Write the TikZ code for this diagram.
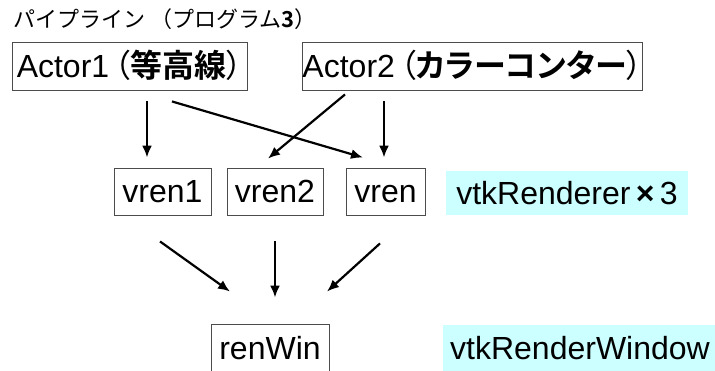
\documentclass[tikz,border=0pt]{standalone}
\usepackage{fontspec}
\setmainfont{Liberation Sans}
\newfontfamily\jp[RawFeature=+palt,BoldFont={Noto Sans CJK JP Bold}]{Noto Sans CJK JP}
\newfontfamily\jpt[BoldFont={Noto Sans CJK JP Bold}]{Noto Sans CJK JP}
\usetikzlibrary{arrows.meta,calc}
\definecolor{lightcyan}{HTML}{CCFFFF}
\tikzset{
  box/.style={draw=black!70,line width=0.9pt,inner sep=0pt,minimum height=47pt,
    font=\fontsize{32}{36}\selectfont,text=black,text height=23pt,text depth=0pt},
  tag/.style={fill=lightcyan,inner sep=0pt,font=\fontsize{32}{36}\selectfont,
    text height=23pt,text depth=0pt},
  arr/.style={line width=2.2pt,-{Latex[length=12pt,width=10pt]}},
}
\begin{document}
\begin{tikzpicture}[x=1pt,y=-1pt]
\useasboundingbox (0,0) rectangle (715,371);
\node[anchor=west,inner sep=0pt,font=\fontsize{22}{24}\selectfont] (title) at (13,19)
  {\jpt パイプライン\hspace{5pt}（プログラム\textbf{3}）};
\node[box,minimum width=235pt,minimum height=48pt] (A1) at (129.5,66)
  {Actor1\kern5pt{\jp （\textbf{等高線}）}};
\node[box,minimum width=331pt,minimum height=48pt] (A2) at (472.5,66)
  {Actor2\kern5pt{\jp （\textbf{カラーコンター}）}};
\node[box,minimum width=97pt] (v1) at (162.5,191.5) {vren1};
\node[box,minimum width=96pt] (v2) at (275,191.5) {vren2};
\node[box,minimum width=79pt] (v3) at (385.5,191.5) {vren};
\node[tag,minimum width=242pt,minimum height=44pt] (R3) at (567,193) {vtkRenderer\,\textbf{×}\,3};
\node[box,minimum width=118pt,minimum height=48pt] (rw) at (270,348) {renWin};
\node[tag,minimum width=274pt,minimum height=46pt] (RW) at (580,348) {vtkRenderWindow};
\draw[arr] ($(A1.south)+(17.5,11)$) -- ($(v1.north)+(-15.5,-10)$);
\draw[arr] ($(A1.south)+(42.5,11)$) -- ($(v3.north)+(-22.5,-10)$);
\draw[arr] ($(A2.south)+(-127.5,4)$) -- ($(v2.north)+(-7,-9)$);
\draw[arr] ($(A2.south)+(-88.5,11)$) -- ($(v3.north)+(-1.5,-10)$);
\draw[arr] ($(v1.south)+(-2.5,26)$) -- ($(rw.north)+(-40,-32)$);
\draw[arr] ($(v2.south)+(0,26)$) -- ($(rw.north)+(5,-26)$);
\draw[arr] ($(v3.south)+(-5.5,28)$) -- ($(rw.north)+(57,-32)$);
\end{tikzpicture}
\end{document}
